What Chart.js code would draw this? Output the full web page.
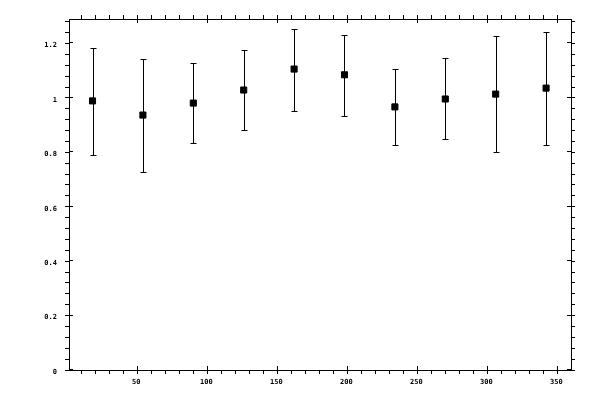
<!DOCTYPE html>
<html>
<head>
<meta charset="utf-8">
<script src="https://cdn.jsdelivr.net/npm/chart.js@4"></script>
<style>
  body { margin: 0; background: #fff; }
  canvas { display: block; }
</style>
</head>
<body>
<canvas id="chart" width="600" height="400"></canvas>
<script>
// bin centres (x) and measured ratio with its error range
const binCenters = [18, 54, 90, 126, 162, 198, 234, 270, 306, 342];
const ratio     = [0.989, 0.937, 0.981, 1.029, 1.106, 1.085, 0.967, 0.996, 1.014, 1.036];
const errHigh   = [1.182, 1.143, 1.128, 1.176, 1.255, 1.233, 1.106, 1.147, 1.227, 1.241];
const errLow    = [0.790, 0.728, 0.834, 0.883, 0.953, 0.934, 0.827, 0.849, 0.801, 0.827];

// axis ranges / ticks
const xRange = [1.2, 359.8];
const yRange = [0, 1.29];
const xStep = 10, xMajor = 50;
const yStep = 0.04, yMajor = 0.2;

const tickFont = { family: 'DejaVu Sans Mono', size: 7, weight: 'bold' };

function onStep(v, step) {
  const r = v / step;
  return Math.abs(r - Math.round(r)) < 1e-6;
}

function keepAligned(step) {
  return scale => {
    scale.ticks = scale.ticks.filter(t => onStep(t.value, step));
  };
}

function axis(position, range, step, labelFn, size) {
  const horizontal = position === 'bottom' || position === 'top';
  return {
    type: 'linear',
    position: position,
    min: range[0],
    max: range[1],
    afterBuildTicks: keepAligned(step),
    afterFit: scale => {
      if (horizontal) scale.height = size; else scale.width = size;
    },
    border: { display: true, color: '#000', width: 1 },
    grid: {
      drawOnChartArea: false,
      drawTicks: true,
      tickLength: 4,
      tickColor: '#000',
      tickWidth: 1
    },
    ticks: {
      stepSize: step,
      includeBounds: false,
      display: !!labelFn,
      color: '#000',
      font: tickFont,
      autoSkip: false,
      maxRotation: 0,
      padding: horizontal ? 4 : 8,
      labelOffset: horizontal ? -1 : 2,
      callback: labelFn || (() => '')
    }
  };
}

// error bars drawn under the square markers
const errorBars = {
  id: 'errorBars',
  beforeDatasetsDraw(chart) {
    const { ctx, scales: { x, y } } = chart;
    ctx.save();
    ctx.strokeStyle = '#000';
    ctx.lineWidth = 1;
    binCenters.forEach((c, i) => {
      const px = Math.round(x.getPixelForValue(c)) + 0.5;
      const top = Math.round(y.getPixelForValue(errHigh[i])) + 0.5;
      const bot = Math.round(y.getPixelForValue(errLow[i])) + 0.5;
      ctx.beginPath();
      ctx.moveTo(px, top); ctx.lineTo(px, bot);
      ctx.moveTo(px - 3, top); ctx.lineTo(px + 3, top);
      ctx.moveTo(px - 3, bot); ctx.lineTo(px + 3, bot);
      ctx.stroke();
    });
    ctx.restore();
  }
};

// major ticks cross the frame, so add the inner half
const innerTicks = {
  id: 'innerTicks',
  afterDraw(chart) {
    const { ctx, chartArea: a } = chart;
    ctx.save();
    ctx.strokeStyle = '#000';
    ctx.lineWidth = 1;
    ctx.beginPath();
    ['x', 'x2'].forEach(id => {
      const s = chart.scales[id];
      s.ticks.forEach(t => {
        if (!onStep(t.value, xMajor)) return;
        const px = Math.round(s.getPixelForValue(t.value)) + 0.5;
        const edge = id === 'x' ? a.bottom : a.top;
        const dir = id === 'x' ? -1 : 1;
        ctx.moveTo(px, edge); ctx.lineTo(px, edge + dir * 4);
      });
    });
    ['y', 'y2'].forEach(id => {
      const s = chart.scales[id];
      s.ticks.forEach(t => {
        if (!onStep(t.value, yMajor)) return;
        const py = Math.round(s.getPixelForValue(t.value)) - 0.5;
        const edge = id === 'y' ? a.left : a.right;
        const dir = id === 'y' ? 1 : -1;
        ctx.moveTo(edge, py); ctx.lineTo(edge + dir * 4, py);
      });
    });
    ctx.stroke();
    ctx.restore();
  }
};

const ctx = document.getElementById('chart').getContext('2d');

new Chart(ctx, {
  type: 'scatter',
  data: {
    datasets: [{
      label: 'ratio',
      data: binCenters.map((c, i) => ({ x: c, y: ratio[i] })),
      pointStyle: 'rect',
      pointRadius: 4.3,
      pointBorderWidth: 1,
      backgroundColor: '#000',
      borderColor: '#000',
      showLine: false
    }]
  },
  options: {
    responsive: false,
    animation: false,
    devicePixelRatio: 1,
    layout: { padding: 0 },
    plugins: {
      legend: { display: false },
      tooltip: { enabled: false }
    },
    scales: {
      x: axis('bottom', xRange, xStep, v => onStep(v, xMajor) ? String(Math.round(v)) : '', 30),
      x2: axis('top', xRange, xStep, null, 19),
      y: axis('left', yRange, yStep, v => onStep(v, yMajor) ? String(Math.round(v * 10) / 10) : '', 69),
      y2: axis('right', yRange, yStep, null, 29)
    }
  },
  plugins: [errorBars, innerTicks]
});
</script>
</body>
</html>
